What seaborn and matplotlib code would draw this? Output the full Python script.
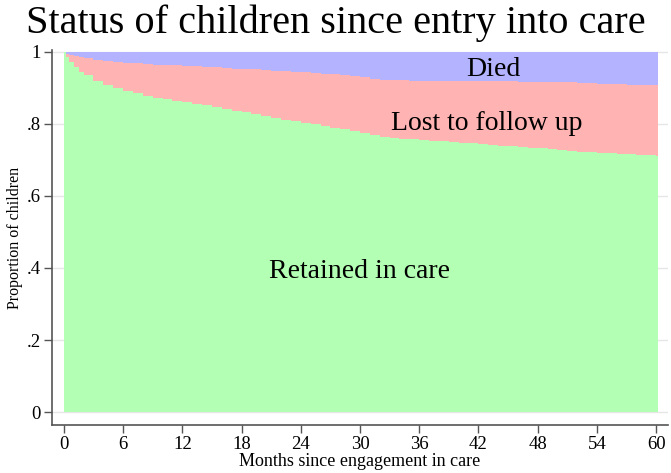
import matplotlib
matplotlib.use("Agg")
import matplotlib.pyplot as plt
import numpy as np
import seaborn as sns

# months since engagement and cumulative proportions
months = [0, 0.25, 0.5, 1, 1.5, 2, 3, 4, 5, 6, 7, 8, 9, 10, 11, 12, 13, 14, 15,
          16, 17, 18, 19, 20, 21, 22, 23, 24, 25, 26, 27, 28, 29, 30, 31, 32,
          33, 34, 35, 36, 37, 38, 39, 40, 41, 42, 43, 44, 45, 46, 47, 48, 49,
          50, 51, 52, 53, 54, 55, 56, 57, 58, 59, 60, 60.2]
retained = [1.0, 0.985, 0.972, 0.958, 0.945, 0.935, 0.92, 0.909, 0.9, 0.892,
            0.885, 0.879, 0.873, 0.868, 0.864, 0.86, 0.856, 0.852, 0.847, 0.842,
            0.837, 0.832, 0.827, 0.822, 0.817, 0.812, 0.808, 0.803, 0.799, 0.794,
            0.79, 0.785, 0.78, 0.775, 0.77, 0.765, 0.762, 0.759, 0.757, 0.755,
            0.753, 0.752, 0.75, 0.748, 0.747, 0.745, 0.742, 0.74, 0.738, 0.736,
            0.734, 0.732, 0.73, 0.728, 0.725, 0.723, 0.721, 0.72, 0.718, 0.717,
            0.716, 0.715, 0.714, 0.712, 0.712]
died = [0.0, 0.005, 0.009, 0.012, 0.015, 0.017, 0.021, 0.025, 0.028, 0.03,
        0.032, 0.034, 0.035, 0.036, 0.037, 0.038, 0.04, 0.041, 0.043, 0.044,
        0.046, 0.047, 0.048, 0.05, 0.052, 0.053, 0.055, 0.056, 0.058, 0.06,
        0.062, 0.064, 0.067, 0.07, 0.074, 0.077, 0.078, 0.079, 0.08, 0.08,
        0.08, 0.08, 0.081, 0.081, 0.081, 0.081, 0.082, 0.082, 0.082, 0.083,
        0.083, 0.083, 0.083, 0.084, 0.084, 0.085, 0.086, 0.088, 0.09, 0.09,
        0.091, 0.091, 0.092, 0.092, 0.092]

x_ticks = list(range(0, 61, 6))
y_ticks = [0, 0.2, 0.4, 0.6, 0.8, 1.0]
y_labels = ["0", ".2", ".4", ".6", ".8", "1"]

colors = {"retained": "#b3ffb3", "lost": "#ffb3b3", "died": "#b3b3ff"}

sns.set_theme(style="white")
plt.rcParams["font.family"] = ["Liberation Serif", "DejaVu Serif"]
plt.rcParams["text.color"] = "black"
plt.rcParams["axes.labelcolor"] = "black"
plt.rcParams["xtick.labelcolor"] = "black"
plt.rcParams["ytick.labelcolor"] = "black"

alive = 1 - np.array(died)

fig = plt.figure(figsize=(6.71, 4.73), dpi=100)
ax = fig.add_axes([0.0775, 0.1015, 0.918, 0.7925])

for y in y_ticks:
    ax.axhline(y, color="#e6e6e6", lw=1, zorder=0)

ax.fill_between(months, 0, retained, step="post", color=colors["retained"], lw=0, zorder=1)
ax.fill_between(months, retained, alive, step="post", color=colors["lost"], lw=0, zorder=1)
ax.fill_between(months, alive, 1, step="post", color=colors["died"], lw=0, zorder=1)

ax.text(43.5, 0.95, "Died", ha="center", va="center", fontsize=20)
ax.text(42.8, 0.80, "Lost to follow up", ha="center", va="center", fontsize=20)
ax.text(30, 0.39, "Retained in care", ha="center", va="center", fontsize=20)

ax.set_xlim(-1.2, 61.2)
ax.set_ylim(-0.036, 1.005)
ax.set_xticks(x_ticks)
ax.set_yticks(y_ticks)
ax.set_yticklabels(y_labels)
ax.tick_params(axis="both", direction="out", length=6, width=1, color="#555555",
               labelsize=13.5, pad=2, bottom=True, left=True)
ax.set_xlabel("Months since engagement in care", fontsize=13, labelpad=0)
ax.set_ylabel("Proportion of children", fontsize=11.5, labelpad=3)

sns.despine(ax=ax)
for side in ["left", "bottom"]:
    ax.spines[side].set_color("#555555")
    ax.spines[side].set_linewidth(1.2)

fig.suptitle("Status of children since entry into care", fontsize=29, y=0.99)

fig.savefig("out.png", dpi=100)
